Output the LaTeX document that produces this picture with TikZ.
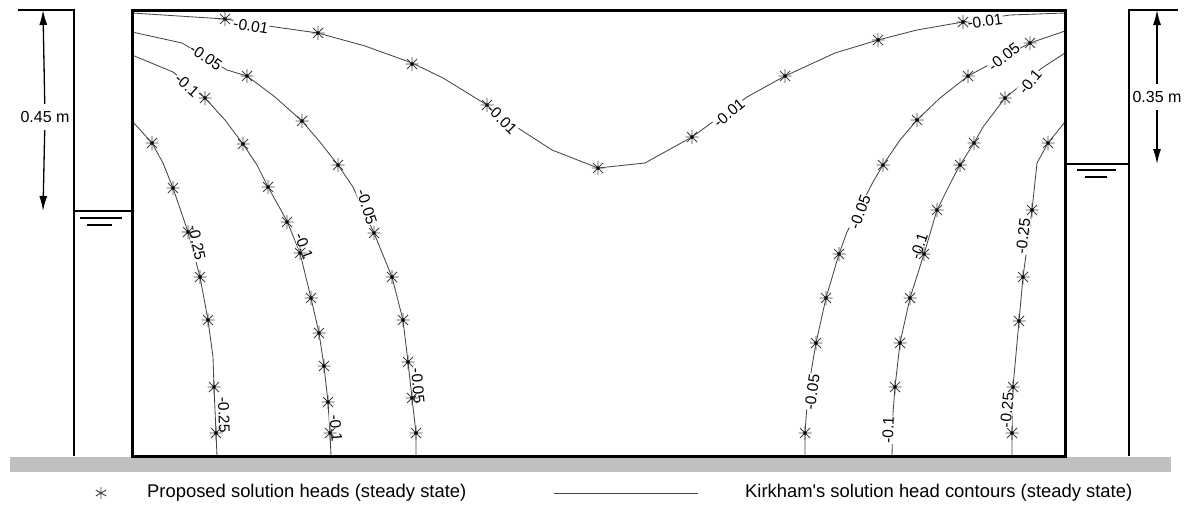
\documentclass[tikz,border=0pt]{standalone}
\usepackage{fontspec}
\setmainfont{Liberation Sans}
\usetikzlibrary{arrows.meta}
\definecolor{groundgray}{RGB}{192,192,192}
\definecolor{contourgray}{RGB}{70,70,70}
\tikzset{
  contour/.style={line width=0.85pt, draw=contourgray, line join=round},
  clabel/.style={font=\fontsize{15.5}{18}\selectfont, fill=white, inner sep=0.5pt},
  wall/.style={line width=1.3pt},
  boxline/.style={line width=3pt},
  dimarrow/.style={line width=1.3pt, -{Latex[length=15pt,width=8pt]}},
  dimlabel/.style={font=\fontsize{16}{19}\selectfont, inner sep=0pt, minimum height=26pt},
  legtext/.style={font=\fontsize{18.4}{21}\selectfont, anchor=west, inner sep=0pt},
  hstar/.pic={
    \draw[line width=0.9pt, draw=black!75] (-6.5,0)--(6.5,0) (0,-7)--(0,7) (-5,-5)--(5,5) (-5,5)--(5,-5);
    \fill (0,0) circle (1.8);
  },
  legstar/.pic={
    \draw[line width=0.9pt, draw=black!75] (0,-6)--(0,6) (-5.2,-3)--(5.2,3) (-5.2,3)--(5.2,-3);
  }
}
\begin{document}
\begin{tikzpicture}[x=1pt,y=-1pt]
\useasboundingbox (0,0) rectangle (1187,506);

% ground
\fill[groundgray] (10,457) rectangle (1171,472);

% walls
\draw[wall] (18,10) -- (74,10) -- (74,456);
\draw[wall] (1178,10) -- (1129,10) -- (1129,456);
% water levels
\draw[wall] (74,211) -- (132,211);
\draw[wall] (80,218) -- (122,218);
\draw[wall] (87,225) -- (112,225);
\draw[wall] (1065,164) -- (1129,164);
\draw[wall] (1077,170) -- (1116,170);
\draw[wall] (1085,177) -- (1107,177);

% dimension arrows
\coordinate (ltop) at (43,10);
\coordinate (lbot) at (43,211);
\node[dimlabel] (l045) at (45,117) {0.45 m};
\draw[dimarrow] (l045) -- (ltop);
\draw[dimarrow] (l045) -- (lbot);
\coordinate (rtop) at (1157,10);
\coordinate (rbot) at (1157,164);
\node[dimlabel] (l035) at (1157,97) {0.35 m};
\draw[dimarrow] (l035) -- (rtop);
\draw[dimarrow] (l035) -- (rbot);

% contours
\draw[contour] (132,13) -- (225,19) -- (275,27) -- (318,33) -- (365,46) -- (412,63) -- (443,78) -- (487,105) -- (518,128) -- (552,150) -- (598,168) -- (645,163) -- (692,137) -- (747,97) -- (785,76) -- (835,53) -- (878,40) -- (917,30) -- (963,22) -- (1010,15) -- (1065,13);
\draw[contour] (132,32) -- (182,43) -- (227,70) -- (247,76) -- (275,97) -- (302,121) -- (320,142) -- (338,165) -- (353,187) -- (374,233) -- (392,277) -- (403,320) -- (408,362) -- (412,398) -- (416,433) -- (416,456);
\draw[contour] (132,55) -- (173,72) -- (205,98) -- (225,120) -- (243,144) -- (257,165) -- (268,187) -- (287,221) -- (300,253) -- (311,298) -- (319,333) -- (324,366) -- (328,402) -- (330,433) -- (331,456);
\draw[contour] (133,122) -- (152,143) -- (163,163) -- (173,188) -- (188,232) -- (200,277) -- (208,320) -- (213,357) -- (214,387) -- (216,433) -- (217,456);
\draw[contour] (805,456) -- (805,433) -- (808,390) -- (816,343) -- (826,298) -- (839,254) -- (847,232) -- (873,182) -- (883,165) -- (900,140) -- (917,120) -- (940,98) -- (968,76) -- (1030,43) -- (1065,31);
\draw[contour] (892,456) -- (893,413) -- (895,387) -- (900,343) -- (910,298) -- (924,254) -- (937,210) -- (952,180) -- (960,165) -- (974,143) -- (983,127) -- (1005,98) -- (1042,68) -- (1065,53);
\draw[contour] (1012,456) -- (1012,433) -- (1013,387) -- (1019,321) -- (1023,277) -- (1032,210) -- (1037,163) -- (1048,143) -- (1065,122);

% contour labels
\node[clabel, rotate=-10] (a1) at (251,26) {-0.01};
\node[clabel, rotate=-45] (a2) at (502,119) {-0.01};
\node[clabel, rotate=40] (a3) at (729,113) {-0.01};
\node[clabel, rotate=8] (a4) at (985,21) {-0.01};
\node[clabel, rotate=-35] (b1) at (206,57) {-0.05};
\node[clabel, rotate=-72] (b2) at (367,207) {-0.05};
\node[clabel, rotate=-85] (b3) at (418,386) {-0.05};
\node[clabel, rotate=-42] (c1) at (187,85) {-0.1};
\node[clabel, rotate=-70] (c2) at (304,246) {-0.1};
\node[clabel, rotate=-85] (c3) at (336,428) {-0.1};
\node[clabel, rotate=-78] (d1) at (197,243) {-0.25};
\node[clabel, rotate=-88] (d2) at (224,415) {-0.25};
\node[clabel, rotate=82] (e1) at (812,392) {-0.05};
\node[clabel, rotate=70] (e2) at (860,212) {-0.05};
\node[clabel, rotate=38] (e3) at (1004,57) {-0.05};
\node[clabel, rotate=88] (f1) at (888,430) {-0.1};
\node[clabel, rotate=72] (f2) at (919,246) {-0.1};
\node[clabel, rotate=50] (f3) at (1030,82) {-0.1};
\node[clabel, rotate=85] (g1) at (1007,410) {-0.25};
\node[clabel, rotate=83] (g2) at (1023,236) {-0.25};

% proposed solution heads
\foreach \x/\y in {225/19,318/33,412/64,487/105,598/168,692/137,785/76,878/40,963/22,
  247/76,302/121,338/165,374/233,392/277,403/320,408/362,412/398,416/433,
  205/98,243/144,268/187,287/222,300/253,311/298,319/333,324/366,328/402,330/433,
  152/143,173/188,188/232,200/277,208/320,214/387,216/433,
  805/433,816/343,826/298,839/254,883/165,917/120,968/76,1030/43,
  895/387,900/343,910/298,924/254,937/210,960/165,974/143,1005/98,
  1012/433,1013/387,1019/321,1023/277,1032/210,1048/143}
  \pic at (\x,\y) {hstar};

% box
\draw[boxline] (132,10) rectangle (1065,456);

% legend
\pic at (101,493) {legstar};
\node[legtext] (leg1) at (147,493) {Proposed solution heads (steady state)};
\coordinate (lgA) at (554,493);
\coordinate (lgB) at (698,493);
\draw[contour] (lgA) -- (lgB);
\node[legtext] (leg2) at (745,493) {Kirkham\textquotesingle s solution head contours (steady state)};
\end{tikzpicture}
\end{document}
